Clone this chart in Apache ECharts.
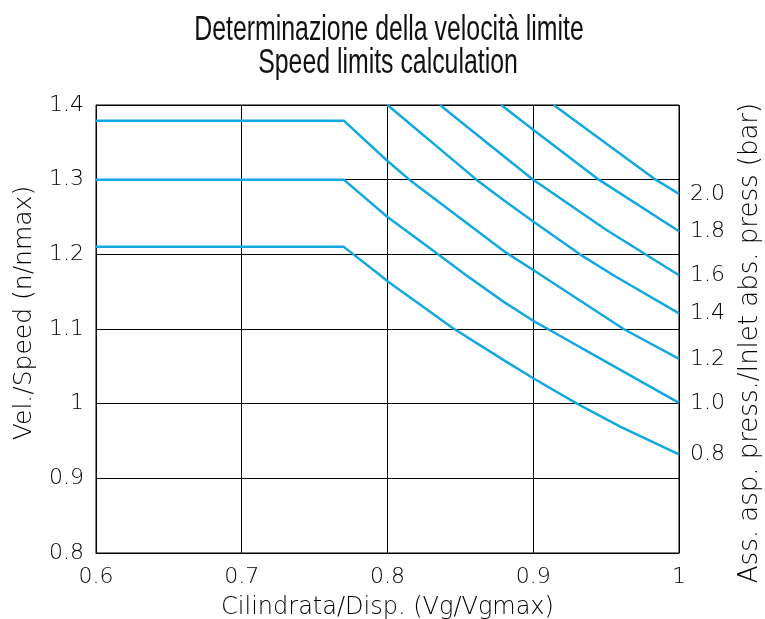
<!DOCTYPE html>
<html>
<head>
<meta charset="utf-8">
<script src="https://cdn.jsdelivr.net/npm/echarts@6/dist/echarts.min.js"></script>
<style>html,body{margin:0;padding:0;background:#fff}#c{width:765px;height:619px}</style>
</head>
<body>
<div id="c"></div>
<script>
const titleLines = ['Determinazione della velocità limite', 'Speed limits calculation'];
const xName = 'Cilindrata/Disp. (Vg/Vgmax)';
const yName = 'Vel./Speed (n/nmax)';
const rightName = 'Ass. asp. press./Inlet abs. press (bar)';
const pressures = ['0.8', '1.0', '1.2', '1.4', '1.6', '1.8', '2.0'];
const p08 = [[0.6,1.21],[0.77,1.21],[0.795,1.172],[0.80,1.164],[0.845,1.101],[0.88,1.058],[0.90,1.034],[0.93,1.0],[0.96,0.969],[1.0,0.932]];
const p10 = [[0.6,1.30],[0.77,1.30],[0.80,1.25],[0.834,1.201],[0.854,1.172],[0.88,1.136],[0.90,1.111],[0.91,1.10],[0.95,1.056],[1.0,1.001]];
const p12 = [[0.6,1.379],[0.77,1.379],[0.80,1.325],[0.815,1.30],[0.88,1.204],[0.90,1.179],[0.962,1.10],[1.0,1.060]];
const p14 = [[0.80,1.40],[0.861,1.30],[0.88,1.272],[0.90,1.244],[0.932,1.20],[0.955,1.172],[1.0,1.121]];
const p16 = [[0.836,1.40],[0.88,1.331],[0.90,1.30],[0.95,1.233],[1.0,1.172]];
const p18 = [[0.878,1.40],[0.90,1.367],[0.945,1.30],[1.0,1.231]];
const p20 = [[0.914,1.40],[0.984,1.30],[1.0,1.281]];
const curves = [p08, p10, p12, p14, p16, p18, p20];

const font = 'DejaVu Sans';
const lab = {fontFamily: font, fontWeight: 200, color: '#000'};
const titleStyle = {fontFamily: 'Liberation Sans', fontSize: 35, fontWeight: 'normal', fill: '#111', align: 'center', verticalAlign: 'middle'};
const chart = echarts.init(document.getElementById('c'));
chart.setOption({
  animation: false,
  backgroundColor: '#fff',
  grid: {left: 96, right: 86, top: 105, bottom: 66, show: true, borderColor: '#000', borderWidth: 1, outerBoundsMode: 'none', containLabel: false},
  xAxis: {
    type: 'value', min: 0.6, max: 1.0, interval: 0.1,
    name: xName, nameLocation: 'middle', nameGap: 43,
    nameTextStyle: Object.assign({fontSize: 24}, lab),
    axisLine: {show: true, lineStyle: {color: '#000', width: 1}},
    axisTick: {show: false},
    axisLabel: Object.assign({fontSize: 22, margin: 13}, lab),
    splitLine: {show: true, lineStyle: {color: '#000', width: 1}}
  },
  yAxis: {
    type: 'value', min: 0.8, max: 1.4, interval: 0.1,
    axisLine: {show: true, lineStyle: {color: '#000', width: 1}},
    axisTick: {show: false},
    axisLabel: Object.assign({fontSize: 22, margin: 12}, lab),
    splitLine: {show: true, lineStyle: {color: '#000', width: 1}}
  },
  graphic: [
    {type: 'text', x: 389, y: 30, scaleX: 0.71, style: Object.assign({text: titleLines[0]}, titleStyle)},
    {type: 'text', x: 388, y: 63, scaleX: 0.71, style: Object.assign({text: titleLines[1]}, titleStyle)},
    {type: 'text', x: 24, y: 313, rotation: Math.PI / 2,
     style: {text: yName, fontFamily: font, fontWeight: 200, fontSize: 25, fill: '#000', align: 'center', verticalAlign: 'middle'}},
    {type: 'text', x: 750, y: 343, rotation: Math.PI / 2,
     style: {text: rightName, fontFamily: font, fontWeight: 200, fontSize: 26, fill: '#000', align: 'center', verticalAlign: 'middle'}}
  ],
  series: curves.map((d, i) => ({
    type: 'line', name: pressures[i], data: d, showSymbol: false, clip: true,
    lineStyle: {color: '#12a8e2', width: 2.5},
    endLabel: Object.assign({show: true, formatter: '{a}', distance: 11, fontSize: 22}, lab)
  }))
});
</script>
</body>
</html>
